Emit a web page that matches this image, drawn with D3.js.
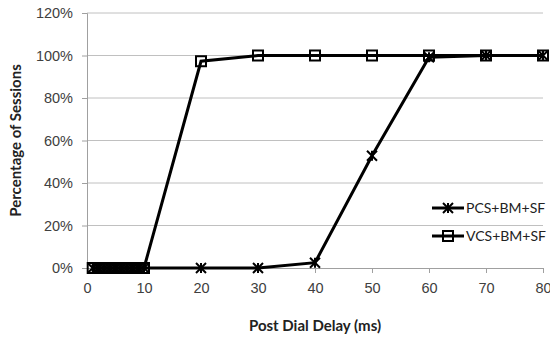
<!DOCTYPE html>
<html>
<head>
<meta charset="utf-8">
<script src="https://cdn.jsdelivr.net/npm/d3@7"></script>
<style>
  body { margin: 0; background: #fff; }
  svg { display: block; font-family: Lato, "Open Sans", sans-serif; }
</style>
</head>
<body>
<div id="chart"></div>
<script>
const delays = [1, 2, 3, 4, 5, 6, 7, 8, 9, 10, 20, 30, 40, 50, 60, 70, 80];
const pcsValues = [0, 0, 0, 0, 0, 0, 0, 0, 0, 0, 0, 0, 2.5, 52.8, 99.2, 100, 100];
const vcsValues = [0, 0, 0, 0, 0, 0, 0, 0, 0, 0, 97.3, 100, 100, 100, 100, 100, 100];
const seriesNames = ['PCS+BM+SF', 'VCS+BM+SF'];
const xTicks = [0, 10, 20, 30, 40, 50, 60, 70, 80];
const yTicks = [0, 20, 40, 60, 80, 100, 120];

const W = 550, H = 337;
const margin = { top: 13, right: 7, bottom: 69, left: 87 };
const innerW = W - margin.left - margin.right;
const innerH = H - margin.top - margin.bottom;

const svg = d3.select('#chart').append('svg')
  .attr('width', W).attr('height', H);

const g = svg.append('g').attr('transform', `translate(${margin.left},${margin.top})`);

const x = d3.scaleLinear().domain([0, 80]).range([0, innerW]);
const y = d3.scaleLinear().domain([0, 120]).range([innerH, 0]);

// gridlines
g.selectAll('line.grid')
  .data(yTicks.filter(d => d > 0))
  .enter().append('line')
  .attr('class', 'grid')
  .attr('x1', 0).attr('x2', innerW)
  .attr('y1', d => y(d)).attr('y2', d => y(d))
  .attr('stroke', '#c0c0c0').attr('stroke-width', 1);

// axes
const xAxis = g.append('g')
  .attr('transform', `translate(0,${innerH})`)
  .call(d3.axisBottom(x).tickValues(xTicks).tickSize(5).tickPadding(10));
const yAxis = g.append('g')
  .call(d3.axisLeft(y).tickValues(yTicks).tickSize(5).tickPadding(9).tickFormat(d => d + '%'));

[xAxis, yAxis].forEach(a => {
  a.select('.domain').attr('stroke', '#a0a0a0');
  a.selectAll('.tick line').attr('stroke', '#a0a0a0');
  a.selectAll('.tick text').attr('fill', '#404040').attr('font-size', 14.5);
});

// axis titles
svg.append('text')
  .attr('x', margin.left + innerW / 2).attr('y', 331)
  .attr('text-anchor', 'middle')
  .attr('font-size', 15).attr('font-weight', 'bold').attr('fill', '#222')
  .text('Post Dial Delay (ms)');

svg.append('text')
  .attr('transform', `translate(21,${margin.top + innerH / 2}) rotate(-90)`)
  .attr('text-anchor', 'middle')
  .attr('font-size', 15).attr('font-weight', 'bold').attr('fill', '#222')
  .text('Percentage of Sessions');

const line = d3.line().x(d => x(d[0])).y(d => y(d[1]));

const pcs = delays.map((d, i) => [d, pcsValues[i]]);
const vcs = delays.map((d, i) => [d, vcsValues[i]]);

function starMarker(sel, cx, cy) {
  const r = 5;
  sel.append('path')
    .attr('d', `M${cx - r},${cy - r}L${cx + r},${cy + r}M${cx - r},${cy + r}L${cx + r},${cy - r}M${cx},${cy - r}L${cx},${cy + r}`)
    .attr('stroke', '#000').attr('stroke-width', 2).attr('fill', 'none');
}
function squareMarker(sel, cx, cy) {
  sel.append('rect')
    .attr('x', cx - 5).attr('y', cy - 5).attr('width', 10).attr('height', 10)
    .attr('fill', 'none').attr('stroke', '#000').attr('stroke-width', 2);
}

const seriesList = [
  { name: seriesNames[0], data: pcs, marker: starMarker },
  { name: seriesNames[1], data: vcs, marker: squareMarker }
];

seriesList.forEach(s => {
  g.append('path')
    .datum(s.data)
    .attr('fill', 'none')
    .attr('stroke', '#000')
    .attr('stroke-width', 3)
    .attr('d', line);
  const mg = g.append('g');
  s.data.forEach(d => s.marker(mg, x(d[0]), y(d[1])));
});

// legend
const legend = svg.append('g').attr('transform', 'translate(432,208)');
seriesList.forEach((s, i) => {
  const row = legend.append('g').attr('transform', `translate(0,${i * 28})`);
  row.append('line').attr('x1', 0).attr('x2', 32).attr('y1', 0).attr('y2', 0)
    .attr('stroke', '#000').attr('stroke-width', 3);
  s.marker(row, 16, 0);
  row.append('text').attr('x', 34).attr('y', 0).attr('dy', '0.35em')
    .attr('font-size', 14).attr('fill', '#222').text(s.name);
});
</script>
</body>
</html>
